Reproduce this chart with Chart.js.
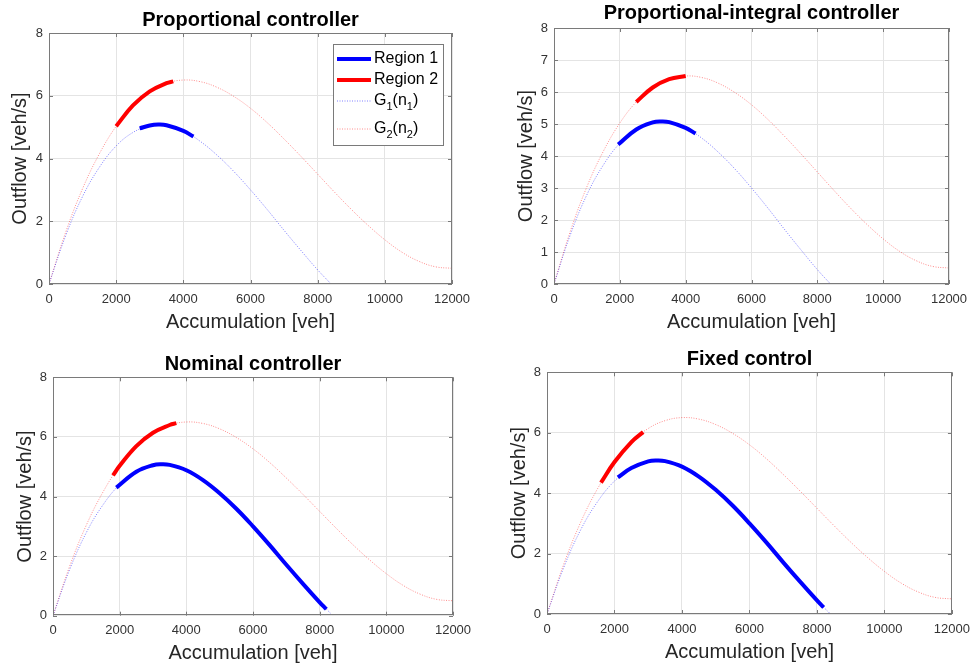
<!DOCTYPE html>
<html>
<head>
<meta charset="utf-8">
<script src="https://cdn.jsdelivr.net/npm/chart.js@4.4.1/dist/chart.umd.min.js"></script>
<style>
  body { margin: 0; background: #fff; width: 978px; height: 667px; overflow: hidden; }
  .panel { position: absolute; }
</style>
</head>
<body>
<div class="panel" style="left:0;top:0"><canvas id="c1" width="489" height="334"></canvas></div>
<div class="panel" style="left:489px;top:0"><canvas id="c2" width="489" height="334"></canvas></div>
<div class="panel" style="left:0;top:334px"><canvas id="c3" width="489" height="333"></canvas></div>
<div class="panel" style="left:489px;top:334px"><canvas id="c4" width="489" height="333"></canvas></div>
<script>
var FONT = '"Liberation Sans", Arial, Helvetica, sans-serif';

// G1(n1), region 1 MFD
var g1Accum = [0, 500, 1000, 1500, 2000, 2500, 3000, 3250, 3500, 4000, 4500, 5000, 5500, 6000, 6500, 7000, 7500, 8000, 8400];
var g1Flow = [0, 1.55, 2.79, 3.72, 4.40, 4.83, 5.05, 5.08, 5.06, 4.88, 4.55, 4.11, 3.59, 3.00, 2.37, 1.71, 1.07, 0.45, 0];

// G2(n2), region 2 MFD
var g2Accum = [0, 500, 1000, 1500, 2000, 2500, 3000, 3500, 4000, 4500, 5000, 5500, 6000, 6500, 7000, 7500, 8000, 8500, 9000, 9500, 10000, 10500, 11000, 11500, 12000];
var g2Flow = [0, 1.66, 3.04, 4.15, 5.03, 5.69, 6.14, 6.40, 6.50, 6.45, 6.27, 5.98, 5.60, 5.14, 4.62, 4.07, 3.50, 2.93, 2.38, 1.87, 1.41, 1.02, 0.73, 0.55, 0.50];

var xTicks = [0, 2000, 4000, 6000, 8000, 10000, 12000];
var yTicksEven = [0, 2, 4, 6, 8];
var yTicksAll = [0, 1, 2, 3, 4, 5, 6, 7, 8];

// trajectories (thick parts), one per controller
var p1R1Accum = [2700, 3000, 3250, 3500, 4000, 4300];
var p1R1Flow = [4.96, 5.05, 5.08, 5.06, 4.88, 4.70];
var p1R2Accum = [2000, 2500, 3000, 3500, 3700];
var p1R2Flow = [5.03, 5.69, 6.14, 6.40, 6.46];

var p2R1Accum = [1950, 2500, 3000, 3250, 3500, 4000, 4300];
var p2R1Flow = [4.36, 4.83, 5.05, 5.08, 5.06, 4.88, 4.70];
var p2R2Accum = [2500, 3000, 3500, 4000];
var p2R2Flow = [5.69, 6.14, 6.40, 6.50];

var p3R1Accum = [1900, 2500, 3000, 3250, 3500, 4000, 4500, 5000, 5500, 6000, 6500, 7000, 7500, 8000, 8200];
var p3R1Flow = [4.30, 4.83, 5.05, 5.08, 5.06, 4.88, 4.55, 4.11, 3.59, 3.00, 2.37, 1.71, 1.07, 0.45, 0.22];
var p3R2Accum = [1800, 2000, 2500, 3000, 3500, 3700];
var p3R2Flow = [4.71, 5.03, 5.69, 6.14, 6.40, 6.46];

var p4R1Accum = [2100, 2500, 3000, 3250, 3500, 4000, 4500, 5000, 5500, 6000, 6500, 7000, 7500, 8000, 8200];
var p4R1Flow = [4.52, 4.83, 5.05, 5.08, 5.06, 4.88, 4.55, 4.11, 3.59, 3.00, 2.37, 1.71, 1.07, 0.45, 0.22];
var p4R2Accum = [1600, 2000, 2500, 2850];
var p4R2Flow = [4.35, 5.03, 5.69, 6.02];

function toPts(xs, ys) {
    return xs.map(function (x, i) { return { x: x, y: ys[i] }; });
}

// matlab style box with inward ticks
var boxPlugin = {
    id: 'matlabBox',
    afterDatasetsDraw: function (chart) {
        var a = chart.chartArea, c = chart.ctx;
        var xs = chart.scales.x, ys = chart.scales.y;
        c.save();
        c.strokeStyle = '#7a7a7a';
        c.lineWidth = 1;
        c.strokeRect(Math.round(a.left) + 0.5, Math.round(a.top) + 0.5,
            Math.round(a.right - a.left) - 1, Math.round(a.bottom - a.top) - 1);
        c.beginPath();
        xs.ticks.forEach(function (t) {
            var px = Math.round(xs.getPixelForValue(t.value)) + 0.5;
            c.moveTo(px, a.bottom); c.lineTo(px, a.bottom - 4);
            c.moveTo(px, a.top); c.lineTo(px, a.top + 4);
        });
        ys.ticks.forEach(function (t) {
            var py = Math.round(ys.getPixelForValue(t.value)) + 0.5;
            c.moveTo(a.left, py); c.lineTo(a.left + 4, py);
            c.moveTo(a.right, py); c.lineTo(a.right - 4, py);
        });
        c.stroke();
        c.restore();
    }
};

var legendRows = [
    { parts: ['Region 1'], color: '#0000ff', width: 4, dash: [], dy: 15 },
    { parts: ['Region 2'], color: '#ff0000', width: 4, dash: [], dy: 36 },
    { parts: ['G', '1', '(n', '1', ')'], color: 'rgba(0,0,255,0.5)', width: 1, dash: [1, 1.5], dy: 57 },
    { parts: ['G', '2', '(n', '2', ')'], color: 'rgba(255,0,0,0.45)', width: 1, dash: [1, 1.5], dy: 85 }
];

var legendPlugin = {
    id: 'mfdLegend',
    afterDraw: function (chart) {
        var a = chart.chartArea, c = chart.ctx;
        var bx = Math.round(a.right) - 119, by = Math.round(a.top) + 11, bw = 110, bh = 101;
        c.save();
        c.fillStyle = '#fff';
        c.fillRect(bx, by, bw, bh);
        c.strokeStyle = '#7a7a7a';
        c.lineWidth = 1;
        c.strokeRect(bx + 0.5, by + 0.5, bw, bh);
        legendRows.forEach(function (row) {
            var y = by + row.dy;
            c.beginPath();
            c.strokeStyle = row.color;
            c.lineWidth = row.width;
            c.setLineDash(row.dash);
            c.moveTo(bx + 4, y);
            c.lineTo(bx + 38, y);
            c.stroke();
            c.setLineDash([]);
            var x = bx + 41;
            c.fillStyle = '#000';
            c.textBaseline = 'middle';
            row.parts.forEach(function (p, i) {
                var sub = (i % 2 === 1);
                c.font = (sub ? '11px ' : '16px ') + FONT;
                c.fillText(p, x, sub ? y + 6 : y);
                x += c.measureText(p).width;
            });
        });
        c.restore();
    }
};

function panel(id, title, r1, r2, o) {
    var ctx = document.getElementById(id).getContext('2d');
    var thin = { showLine: true, pointRadius: 0, borderWidth: 1, borderDash: [1, 1.5], tension: 0.4 };
    var thick = { showLine: true, pointRadius: 0, borderWidth: 4, tension: 0.4 };
    return new Chart(ctx, {
        type: 'scatter',
        data: {
            datasets: [
                Object.assign({ label: 'G1(n1)', data: toPts(g1Accum, g1Flow), borderColor: 'rgba(0,0,255,0.5)' }, thin),
                Object.assign({ label: 'G2(n2)', data: toPts(g2Accum, g2Flow), borderColor: 'rgba(255,0,0,0.45)' }, thin),
                Object.assign({ label: 'Region 1', data: toPts(r1[0], r1[1]), borderColor: '#0000ff' }, thick),
                Object.assign({ label: 'Region 2', data: toPts(r2[0], r2[1]), borderColor: '#ff0000' }, thick)
            ]
        },
        options: {
            responsive: false,
            animation: false,
            layout: { padding: { left: 0, top: 0, bottom: 0, right: o.padR } },
            plugins: {
                legend: { display: false },
                tooltip: { enabled: false },
                title: {
                    display: true,
                    text: title,
                    fullSize: false,
                    color: '#000',
                    font: { family: FONT, size: 20, weight: 'bold' },
                    padding: { top: o.tPadT, bottom: o.tPadB }
                }
            },
            scales: {
                x: {
                    type: 'linear',
                    min: 0,
                    max: 12000,
                    afterBuildTicks: function (s) {
                        s.ticks = xTicks.map(function (v) { return { value: v }; });
                    },
                    afterFit: function (s) { s.height = o.xH; },
                    grid: { color: '#e4e4e4', drawTicks: false },
                    border: { display: false },
                    ticks: {
                        padding: o.xTickPad,
                        maxRotation: 0,
                        color: '#333',
                        font: { family: FONT, size: 13 },
                        callback: function (v) { return String(v); }
                    },
                    title: {
                        display: true,
                        text: 'Accumulation [veh]',
                        color: '#262626',
                        font: { family: FONT, size: 20 },
                        padding: { top: 0, bottom: o.xTitlePadB }
                    }
                },
                y: {
                    type: 'linear',
                    min: 0,
                    max: 8,
                    afterBuildTicks: function (s) {
                        s.ticks = o.yTicks.map(function (v) { return { value: v }; });
                    },
                    afterFit: function (s) { s.width = o.yW; },
                    grid: { color: '#e4e4e4', drawTicks: false },
                    border: { display: false },
                    ticks: {
                        padding: 6,
                        color: '#333',
                        font: { family: FONT, size: 13 }
                    },
                    title: {
                        display: true,
                        text: 'Outflow [veh/s]',
                        color: '#262626',
                        font: { family: FONT, size: 20 },
                        padding: { top: o.yTitlePadT, bottom: 0 }
                    }
                }
            }
        },
        plugins: o.legend ? [boxPlugin, legendPlugin] : [boxPlugin]
    });
}

panel('c1', 'Proportional controller', [p1R1Accum, p1R1Flow], [p1R2Accum, p1R2Flow],
    { padR: 37, tPadT: 8, tPadB: 1, xH: 50, xTickPad: 8, xTitlePadB: 0, yW: 49, yTitlePadT: 8, yTicks: yTicksEven, legend: true });
panel('c2', 'Proportional-integral controller', [p2R1Accum, p2R1Flow], [p2R2Accum, p2R2Flow],
    { padR: 29, tPadT: 1, tPadB: 3, xH: 50, xTickPad: 8, xTitlePadB: 0, yW: 65, yTitlePadT: 25, yTicks: yTicksAll });
panel('c3', 'Nominal controller', [p3R1Accum, p3R1Flow], [p3R2Accum, p3R2Flow],
    { padR: 36, tPadT: 18, tPadB: 1.3, xH: 51.3, xTickPad: 7, xTitlePadB: 1.7, yW: 53, yTitlePadT: 13, yTicks: yTicksEven });
panel('c4', 'Fixed control', [p4R1Accum, p4R1Flow], [p4R2Accum, p4R2Flow],
    { padR: 23, tPadT: 13, tPadB: 1.3, xH: 53, xTickPad: 8, xTitlePadB: 2.7, yW: 58, yTitlePadT: 18, yTicks: yTicksEven });
</script>
</body>
</html>
